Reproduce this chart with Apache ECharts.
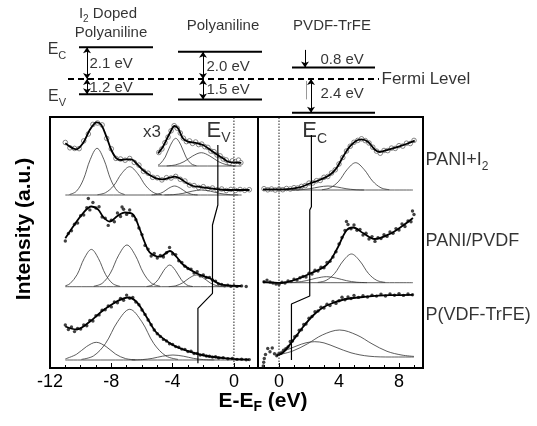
<!DOCTYPE html>
<html>
<head>
<meta charset="utf-8">
<script src="https://cdn.jsdelivr.net/npm/echarts@6/dist/echarts.min.js"></script>
<style>
  html, body { margin: 0; padding: 0; background: #fff; }
  #chart { width: 537px; height: 426px; }
</style>
</head>
<body>
<div id="chart"></div>
<script>
// ---------- band diagram (energies in eV, relative to the Fermi level) ----------
const condLevels = [2.24, 1.93, 0.81];
const valLevels = [-1.09, -1.45, -2.40];
const gapText = [['2.1 eV', '1.2 eV'], ['2.0 eV', '1.5 eV'], ['0.8 eV', '2.4 eV']];

// ---------- spectra: [E - EF (eV), intensity (a.u., offset per trace)] ----------
// left panel, occupied states
const iodVFit = [[-11.0,224.7],[-10.28,218.7],[-9.85,224.7],[-9.41,238],[-9.09,244.7],[-8.94,245.7],[-8.65,243],[-8.32,231.3],[-8.0,218],[-7.67,209.7],[-7.35,208],[-7.02,208.7],[-6.69,208.7],[-6.37,204.7],[-5.94,198],[-5.5,193],[-5.06,189.7],[-4.63,188.7],[-4.19,190.3],[-3.87,191.3],[-3.54,189.7],[-3.11,185.3],[-2.67,182],[-2.02,180.7],[-1.37,179.3],[-0.5,178],[0.37,178],[1.02,178]];
const iodVData = [[-11.0,225.5],[-10.7,220.2],[-10.4,219.6],[-10.1,219.4],[-9.8,227.1],[-9.5,234.0],[-9.2,243.6],[-8.9,245.0],[-8.6,243.1],[-8.3,229.6],[-8.0,219.2],[-7.7,209.6],[-7.4,209.0],[-7.1,207.8],[-6.8,209.5],[-6.5,205.6],[-6.2,202.9],[-5.9,196.7],[-5.6,194.8],[-5.3,190.7],[-5.0,190.2],[-4.7,188.1],[-4.4,190.3],[-4.1,190.0],[-3.8,191.6],[-3.5,188.7],[-3.2,187.0],[-2.9,182.9],[-2.6,182.4],[-2.3,180.5],[-2.0,181.3],[-1.7,179.4],[-1.4,180.0],[-1.1,178.2],[-0.8,179.0],[-0.5,177.5],[-0.2,178.6],[0.1,177.6],[0.4,178.5],[0.7,177.7],[1.0,178.3]];
const iodVBase = [[-11.0,173],[0.5,173]];
const iodVPeaks = [
  [[-10.73,173.5],[-10.28,176.7],[-9.83,188.2],[-9.38,208.3],[-8.93,219.7],[-8.48,208.3],[-8.03,188.2],[-7.58,176.7],[-7.13,173.5]],
  [[-8.9,173.3],[-8.38,175.3],[-7.85,182.2],[-7.33,194.4],[-6.8,201.3],[-6.28,194.4],[-5.75,182.2],[-5.23,175.3],[-4.7,173.3]],
  [[-5.37,173.1],[-5.0,173.7],[-4.62,175.9],[-4.25,179.8],[-3.87,182],[-3.5,179.8],[-3.12,175.9],[-2.75,173.7],[-2.37,173.1]],
  [[-4.53,173.1],[-3.93,173.4],[-3.33,174.6],[-2.73,176.8],[-2.13,178],[-1.53,176.8],[-0.93,174.6],[-0.33,173.4],[0.27,173.1]]
];
// x3 inset
const insetFit = [[-4.95,214.7],[-4.63,221.3],[-4.19,234.7],[-3.87,242],[-3.65,239.7],[-3.33,229.7],[-3.0,226.3],[-2.56,225.3],[-2.02,223],[-1.37,216.3],[-0.72,209.7],[-0.28,205.8],[0.16,205.5],[0.48,205.2]];
const insetData = [[-4.9,215.5],[-4.7,219.0],[-4.5,225.3],[-4.3,230.9],[-4.1,237.2],[-3.9,242.3],[-3.7,239.8],[-3.5,235.0],[-3.3,229.8],[-3.1,226.4],[-2.9,227.1],[-2.7,224.6],[-2.5,226.0],[-2.3,223.4],[-2.1,223.9],[-1.9,221.3],[-1.7,220.6],[-1.5,216.9],[-1.3,216.3],[-1.1,213.0],[-0.9,212.1],[-0.7,209.0],[-0.5,208.0],[-0.3,205.0],[-0.1,207.2],[0.1,206.4],[0.3,207.9],[0.45,205.3]];
const insetBase = [[-4.95,202],[0.48,202]];
const insetPeaks = [
  [[-4.95,203.0],[-4.81,204.2],[-4.48,211],[-4.14,222.9],[-3.8,229.7],[-3.46,222.9],[-3.13,211],[-2.79,204.2],[-2.45,202.3]],
  [[-4.38,202.1],[-3.82,203.1],[-3.26,206.3],[-2.69,212],[-2.13,215.3],[-1.57,212],[-1.0,206.3],[-0.44,203.1],[0.12,202.1]]
];
const blendVFit = [[-11.0,129.7],[-10.5,141.3],[-9.85,154.7],[-9.3,161.5],[-8.87,158.7],[-8.5,150.5],[-8.11,146.5],[-7.6,152],[-7.13,155.5],[-6.59,153.7],[-6.15,139],[-5.83,126],[-5.5,115.7],[-4.83,111.3],[-4.18,117],[-3.76,111.3],[-3.33,103.5],[-2.45,94.7],[-1.59,89.7],[-0.93,84],[-0.3,82.3],[0.48,82]];
const blendVData = [[-11.0,127.0],[-10.8,134.5],[-10.6,137.2],[-10.4,143.8],[-10.2,145.0],[-10.0,152.3],[-9.8,153.0],[-9.6,160.4],[-9.5,169.5],[-9.4,158.1],[-9.2,165.5],[-9.0,160.0],[-8.8,161.2],[-8.6,151.0],[-8.4,149.8],[-8.2,142.6],[-8.0,147.9],[-7.8,146.3],[-7.6,155.0],[-7.4,151.5],[-7.3,161.0],[-7.2,158.7],[-7.0,153.6],[-6.8,158.0],[-6.6,152.2],[-6.4,148.3],[-6.2,140.0],[-6.0,133.4],[-5.8,122.6],[-5.6,118.9],[-5.4,112.0],[-5.2,114.5],[-5.0,110.0],[-4.8,112.6],[-4.6,111.0],[-4.4,115.3],[-4.2,120.5],[-4.0,114.0],[-3.8,113.4],[-3.6,107.2],[-3.4,105.6],[-3.2,101.8],[-3.0,99.5],[-2.8,98.9],[-2.6,95.0],[-2.4,96.2],[-2.2,92.1],[-2.0,93.0],[-1.8,90.5],[-1.6,90.6],[-1.4,88.0],[-1.2,86.9],[-1.0,84.0],[-0.8,83.5],[-0.6,82.2],[-0.4,82.9],[-0.2,81.8],[0.0,82.4],[0.2,81.6],[0.5,82.1],[0.8,81.5]];
const blendVBase = [[-11.0,81.3],[0.5,81.3]];
const blendVPeaks = [
  [[-11.0,82.2],[-10.7,84.3],[-10.23,93.4],[-9.77,109.5],[-9.3,118.6],[-8.84,109.5],[-8.37,93.4],[-7.9,84.3],[-7.44,81.7]],
  [[-9.14,81.8],[-8.6,84.6],[-8.06,94.9],[-7.52,112.8],[-6.98,123],[-6.44,112.8],[-5.9,94.9],[-5.36,84.6],[-4.82,81.8]],
  [[-5.69,81.5],[-5.32,83],[-4.94,88.4],[-4.57,97.7],[-4.19,103],[-3.82,97.7],[-3.44,88.4],[-3.07,83],[-2.69,81.5]],
  [[-4.25,81.4],[-3.8,82.2],[-3.35,85.1],[-2.9,90.1],[-2.45,93],[-2.0,90.1],[-1.55,85.1],[-1.1,82.2],[-0.65,81.4]]
];
const pvdfVFit = [[-11.0,41.5],[-10.28,38.5],[-9.41,46.3],[-8.55,57.5],[-7.67,66.3],[-6.91,70.5],[-6.37,66.3],[-5.71,51.3],[-5.06,35.5],[-3.98,23],[-2.89,16.3],[-1.8,12],[-0.5,9.7],[0.98,8.3]];
const pvdfVData = [[-11.0,43.0],[-10.8,38.5],[-10.6,41.0],[-10.4,36.4],[-10.2,39.5],[-10.0,39.0],[-9.8,43.1],[-9.6,42.2],[-9.4,47.5],[-9.2,47.0],[-9.0,52.3],[-8.8,53.1],[-8.6,57.8],[-8.4,58.2],[-8.2,62.0],[-8.0,61.1],[-7.8,66.0],[-7.6,65.3],[-7.4,69.6],[-7.2,67.8],[-7.0,72.9],[-6.8,69.8],[-6.6,70.5],[-6.4,66.0],[-6.2,63.2],[-6.0,58.0],[-5.8,53.6],[-5.6,48.0],[-5.4,43.3],[-5.2,38.0],[-5.0,34.2],[-4.8,31.5],[-4.6,28.6],[-4.4,27.0],[-4.2,24.3],[-4.0,23.5],[-3.8,21.4],[-3.6,20.8],[-3.4,18.9],[-3.2,18.6],[-3.0,16.4],[-2.8,16.8],[-2.6,14.5],[-2.4,14.6],[-2.2,12.9],[-2.0,13.2],[-1.8,12.0],[-1.6,11.8],[-1.4,10.9],[-1.2,11.2],[-1.0,10.0],[-0.7,10.3],[-0.4,9.2],[-0.1,9.6],[0.2,8.6],[0.5,8.8],[0.8,8.2],[1.0,8.4]];
const pvdfVBase = [[-11.0,8],[1.0,8]];
const pvdfVPeaks = [
  [[-9.95,8.6],[-9.16,12.1],[-8.38,24.5],[-7.59,46.3],[-6.8,58.7],[-6.01,46.3],[-5.23,24.5],[-4.44,12.1],[-3.65,8.6]],
  [[-11.0,9.1],[-10.26,13.8],[-9.62,21.4],[-8.98,25.7],[-8.34,21.4],[-7.71,13.8],[-7.07,9.4],[-6.43,8.2]],
  [[-6.68,8.1],[-5.98,8.4],[-5.33,9.6],[-4.66,11.8],[-3.98,13],[-3.3,11.8],[-2.63,9.6],[-1.98,8.4],[-1.28,8.1]]
];
// right panel, unoccupied states
const iodCFit = [[-1.07,178.7],[0.27,178.7],[1.38,180.7],[2.05,184.5],[2.71,188],[3.38,193],[3.83,199.7],[4.27,211.3],[4.71,221.3],[5.16,227.3],[5.49,228.7],[5.93,226.3],[6.38,218.5],[6.71,216],[7.16,217.8],[7.83,220.7],[8.49,224],[9.05,227.3]];
const iodCData = [[-1.0,179.3],[-0.75,178.2],[-0.5,179.0],[-0.25,178.0],[0.0,178.9],[0.25,178.3],[0.5,179.5],[0.75,179.0],[1.0,180.3],[1.25,180.0],[1.5,181.6],[1.75,182.4],[2.0,184.9],[2.25,185.0],[2.5,187.3],[2.75,187.6],[3.0,190.7],[3.25,191.5],[3.5,195.0],[3.75,198.2],[4.0,204.0],[4.25,210.5],[4.5,217.0],[4.75,221.8],[5.0,225.7],[5.25,227.6],[5.5,229.2],[5.75,227.4],[6.0,225.0],[6.25,220.8],[6.5,216.9],[6.75,214.8],[7.0,217.5],[7.25,217.4],[7.5,219.9],[7.75,219.6],[8.0,222.3],[8.25,221.9],[8.5,224.8],[8.75,224.5],[9.0,227.6]];
const iodCBase = [[-1.07,178],[8.93,178]];
const iodCPeaks = [
  [[2.86,178.3],[3.42,180.2],[3.99,186.9],[4.55,198.6],[5.11,205.3],[5.67,198.6],[6.24,186.9],[6.8,180.2],[7.36,178.3]],
  [[0.87,178],[1.47,178.3],[2.07,179.3],[2.67,181],[3.27,182],[3.87,181],[4.47,179.3],[5.07,178.3],[5.67,178]]
];
const blendCFit = [[-1.07,86],[-0.5,85.5],[0.05,85],[0.93,87.5],[2.05,94.2],[3.16,103],[3.83,118],[4.49,137.5],[4.93,140.5],[5.6,135],[6.38,129],[7.38,134],[8.27,142.5],[8.93,150]];
const blendCData = [[-1.0,86.2],[-0.8,87.9],[-0.6,86.0],[-0.4,84.9],[-0.2,84.0],[0.0,83.6],[0.2,85.8],[0.4,85.0],[0.6,87.1],[0.8,86.4],[1.0,88.9],[1.2,88.0],[1.4,90.3],[1.6,91.5],[1.8,91.0],[2.0,94.8],[2.2,93.9],[2.4,97.8],[2.6,96.9],[2.8,100.8],[3.0,100.2],[3.2,105.5],[3.4,106.8],[3.6,111.0],[3.8,116.3],[4.0,124.0],[4.2,130.5],[4.4,137.6],[4.5,146.5],[4.6,143.5],[4.8,139.2],[5.0,143.0],[5.2,137.8],[5.4,138.5],[5.6,132.9],[5.8,134.8],[6.0,129.0],[6.2,131.4],[6.4,126.6],[6.6,130.2],[6.8,129.5],[7.0,133.2],[7.2,131.6],[7.4,136.0],[7.6,134.8],[7.8,139.4],[8.0,137.9],[8.2,144.1],[8.4,141.5],[8.6,147.0],[8.8,146.3],[8.9,157.0],[9.0,153.5]];
const blendCBase = [[-1.07,85.3],[8.93,85.3]];
const blendCPeaks = [
  [[2.58,85.6],[3.14,87.6],[3.71,94.6],[4.27,107],[4.83,114],[5.39,107],[5.96,94.6],[6.52,87.6],[7.08,85.6]],
  [[0.46,85.4],[1.16,85.8],[1.81,87.3],[2.48,89.8],[3.16,91.3],[3.84,89.8],[4.51,87.3],[5.16,85.8],[5.86,85.4]]
];
const pvdfCFit = [[-0.17,12.5],[0.27,15.5],[0.93,27.5],[1.6,41],[2.27,52.5],[2.93,60.5],[3.6,65],[4.49,69],[5.83,71.3],[7.38,72.8],[8.93,73.2]];
const pvdfCData = [[-1.05,2.0],[-1.02,5.8],[-0.98,9.5],[-0.9,13.5],[-0.75,19.5],[-0.6,16.2],[-0.45,20.0],[-0.3,14.3],[-0.15,12.2],[0.0,13.9],[0.15,15.0],[0.3,17.8],[0.45,19.2],[0.6,21.0],[0.75,26.5],[0.9,27.0],[1.05,31.2],[1.2,32.5],[1.35,37.8],[1.5,38.2],[1.65,43.5],[1.8,44.0],[2.0,49.8],[2.2,51.5],[2.4,56.2],[2.6,57.0],[2.8,60.8],[3.0,59.9],[3.2,63.8],[3.4,62.4],[3.6,66.5],[3.8,64.6],[4.0,67.3],[4.2,70.8],[4.4,68.2],[4.6,71.0],[4.8,69.5],[5.0,72.6],[5.3,70.6],[5.6,72.2],[5.9,71.0],[6.2,72.8],[6.5,71.9],[6.8,73.9],[7.1,72.0],[7.4,74.1],[7.7,72.8],[8.0,74.4],[8.3,72.6],[8.6,74.0],[8.9,73.2]];
const pvdfCPeaks = [
  [[-0.17,12.8],[0.9,16.9],[1.9,24.2],[2.9,33.1],[4.04,38],[5.2,32.9],[6.2,24.2],[7.2,16.7],[8.2,12.9],[9.0,11.6]],
  [[-0.17,14.6],[0.5,18],[1.2,22.2],[1.8,25.2],[2.38,26.3],[3.0,25.1],[3.8,20.7],[4.8,15.2],[6.0,11.8],[7.5,11],[9.0,11]]
];
// band edge markers drawn across the three traces
const evPath = [[-1.05,223],[-1.05,163],[-1.4,143],[-1.4,74.7],[-2.35,59.7],[-2.35,4.7]];
const ecPath = [[2.16,233],[2.16,161.3],[2.05,158],[2.05,72],[0.83,64],[0.83,8]];
const sampleNames = ['PANI+I2', 'PANI/PVDF', 'P(VDF-TrFE)'];
const sampleLevels = [208, 127, 52.5];
const leftTicks = [-12, -8, -4, 0];
const leftMinor = [-11, -10, -9, -7, -6, -5, -3, -2, -1, 1];
const rightTicks = [0, 4, 8];
const rightMinor = [-1, 1, 2, 3, 5, 6, 7, 9];

// ---------- layout ----------
const FONT = '"Liberation Sans", Arial, sans-serif';
const columnSpan = [[79, 153], [178, 262], [292, 375]];
const fermiSpan = [68, 379];
const arrowX = [87, 203, 311];
const DIAG = [0, 0], LEFT = [1, 1], RIGHT = [3, 2];

const chart = echarts.init(document.getElementById('chart'));

function curve(data, ax, width, color) {
  return { type: 'line', xAxisIndex: ax[0], yAxisIndex: ax[1], data, smooth: 0.35, symbol: 'none',
    lineStyle: { color: color || '#000', width: width }, silent: true, z: 3 };
}
function poly(data, ax, width) {
  return { type: 'line', xAxisIndex: ax[0], yAxisIndex: ax[1], data, symbol: 'none',
    lineStyle: { color: '#000', width: width }, silent: true, z: 4 };
}
function dots(data, ax, hollow) {
  return { type: 'scatter', xAxisIndex: ax[0], yAxisIndex: ax[1], data, symbol: 'circle',
    symbolSize: hollow ? 4.6 : 3.4, silent: true, z: 2,
    itemStyle: hollow ? { color: '#fff', borderColor: '#666', borderWidth: 1 } : { color: '#111' } };
}
function texts(ax, items) {
  return { type: 'scatter', xAxisIndex: ax[0], yAxisIndex: ax[1], symbolSize: 1, silent: true, z: 10,
    itemStyle: { color: 'rgba(0,0,0,0)' },
    data: items.map(it => ({ value: it.at, label: Object.assign({ show: true, position: it.pos || 'inside',
      distance: it.dist || 0, color: '#000', fontFamily: FONT, fontSize: it.size || 15,
      formatter: it.text, rich: it.rich }, it.extra || {}) })) };
}
const subRich = (big, small, pad) => ({ m: { fontSize: big, fontFamily: FONT, color: '#000' },
  s: { fontSize: small, fontFamily: FONT, color: '#000', padding: [pad, 0, 0, 0] } });

const series = [];

// band diagram
condLevels.forEach((c, i) => series.push(poly([[columnSpan[i][0], c], [columnSpan[i][1], c]], DIAG, 2)));
valLevels.forEach((v, i) => series.push(poly([[columnSpan[i][0], v], [columnSpan[i][1], v]], DIAG, 2)));
const arrows = [];
for (let i = 0; i < 2; i++) {
  arrows.push([{ coord: [arrowX[i], condLevels[i]], symbol: 'arrow' }, { coord: [arrowX[i], 0], symbol: 'arrow' }]);
  arrows.push([{ coord: [arrowX[i], 0], symbol: 'arrow' }, { coord: [arrowX[i], valLevels[i]], symbol: 'arrow' }]);
}
arrows.push([{ coord: [arrowX[2] - 6, condLevels[2] + 1.25], symbol: 'none' }, { coord: [arrowX[2] - 6, condLevels[2]], symbol: 'arrow' }]);
arrows.push([{ coord: [arrowX[2], 0], symbol: 'arrow' }, { coord: [arrowX[2], valLevels[2]], symbol: 'arrow' }]);
arrows.push([{ coord: [arrowX[2] - 5, -0.15], symbol: 'none', lineStyle: { color: '#999' } }, { coord: [arrowX[2] - 5, -1.45], symbol: 'none' }]);
series.push({ type: 'line', xAxisIndex: 0, yAxisIndex: 0, data: [[fermiSpan[0], 0], [fermiSpan[1], 0]], symbol: 'none',
  lineStyle: { color: '#000', width: 2, type: [6, 4] }, silent: true, z: 4,
  markLine: { silent: true, animation: false, symbolSize: 6, label: { show: false },
    lineStyle: { color: '#000', width: 1, type: 'solid' }, emphasis: { disabled: true }, data: arrows } });
series.push(texts(DIAG, [
  { at: [108, 4.6], text: '{m|I}{s|2}{m| Doped}', rich: subRich(15, 10, 10) },
  { at: [111, 3.28], text: 'Polyaniline' },
  { at: [223, 3.75], text: 'Polyaniline' },
  { at: [332, 3.75], text: 'PVDF-TrFE' },
  { at: [57, 2.05], text: '{m|E}{s|C}', rich: subRich(16, 11, 12) },
  { at: [57, -1.26], text: '{m|E}{s|V}', rich: subRich(16, 11, 12) },
  { at: [arrowX[0] + 2, 1.1], text: gapText[0][0], pos: 'right' },
  { at: [arrowX[0] + 2, -0.6], text: gapText[0][1], pos: 'right' },
  { at: [arrowX[1] + 3, 0.87], text: gapText[1][0], pos: 'right' },
  { at: [arrowX[1] + 3, -0.74], text: gapText[1][1], pos: 'right' },
  { at: [arrowX[2] + 9, 1.34], text: gapText[2][0], pos: 'right' },
  { at: [arrowX[2] + 9, -1.07], text: gapText[2][1], pos: 'right' },
  { at: [fermiSpan[1] + 2, -0.03], text: 'Fermi Level', pos: 'right', size: 17 }
]));

// left panel
[iodVBase, insetBase, blendVBase, pvdfVBase].forEach(b => series.push(curve(b, LEFT, 0.8, '#333')));
[...iodVPeaks, ...insetPeaks, ...blendVPeaks, ...pvdfVPeaks].forEach(p => series.push(curve(p, LEFT, 0.8, '#333')));
series.push(dots(iodVData, LEFT, true), dots(insetData, LEFT, true), dots(blendVData, LEFT, false), dots(pvdfVData, LEFT, false));
[iodVFit, insetFit, blendVFit, pvdfVFit].forEach(f => series.push(curve(f, LEFT, 1.8)));
series.push(poly(evPath, LEFT, 1.2));
series.push({ type: 'line', xAxisIndex: 1, yAxisIndex: 1, data: [[0, 0], [0, 251]], symbol: 'none', silent: true,
  lineStyle: { color: '#222', width: 1, type: [1.5, 1.5] } });
series.push(texts(LEFT, [
  { at: [-5.34, 235.5], text: 'x3', size: 17 },
  { at: [-1.0, 237.5], text: '{m|E}{s|V}', rich: subRich(22, 14, 16) }
]));

// right panel
[iodCBase, blendCBase].forEach(b => series.push(curve(b, RIGHT, 0.8, '#333')));
[...iodCPeaks, ...blendCPeaks, ...pvdfCPeaks].forEach(p => series.push(curve(p, RIGHT, 0.8, '#333')));
series.push(dots(iodCData, RIGHT, true), dots(blendCData, RIGHT, false), dots(pvdfCData, RIGHT, false));
[iodCFit, blendCFit, pvdfCFit].forEach(f => series.push(curve(f, RIGHT, 1.8)));
series.push(poly(ecPath, RIGHT, 1.2));
series.push({ type: 'line', xAxisIndex: 3, yAxisIndex: 2, data: [[0, 0], [0, 251]], symbol: 'none', silent: true,
  lineStyle: { color: '#222', width: 1, type: [1.5, 1.5] } });
series.push(texts(RIGHT, [
  { at: [2.38, 237], text: '{m|E}{s|C}', rich: subRich(22, 14, 16) },
  { at: [9.6, sampleLevels[0]], text: '{m|PANI+I}{s|2}', rich: subRich(18, 12, 14), pos: 'right', dist: 2 },
  { at: [9.6, sampleLevels[1]], text: sampleNames[1], pos: 'right', dist: 2, size: 18 },
  { at: [9.6, sampleLevels[2]], text: sampleNames[2], pos: 'right', dist: 2, size: 18 }
]));

function majorAxis(grid, min, max, ticks) {
  return { gridIndex: grid, type: 'value', min, max, position: 'bottom', offset: 0,
    axisLine: { show: false }, splitLine: { show: false },
    axisTick: { show: true, inside: true, length: 5, customValues: ticks, lineStyle: { color: '#000', width: 1 } },
    axisLabel: { show: true, customValues: ticks, fontSize: 18, color: '#000', fontFamily: FONT, margin: 5 } };
}
function minorAxis(grid, min, max, ticks) {
  return { gridIndex: grid, type: 'value', min, max, position: 'bottom', offset: 0,
    axisLine: { show: false }, splitLine: { show: false }, axisLabel: { show: false },
    axisTick: { show: true, inside: true, length: 3, customValues: ticks, lineStyle: { color: '#000', width: 1 } } };
}

chart.setOption({
  animation: false,
  backgroundColor: '#fff',
  textStyle: { fontFamily: FONT },
  grid: [
    { left: 0, top: 0, width: 537, height: 117, show: false },
    { left: 50, top: 117, width: 208, height: 251, show: true, borderColor: '#000', borderWidth: 2 },
    { left: 258, top: 117, width: 165, height: 251, show: true, borderColor: '#000', borderWidth: 2 }
  ],
  xAxis: [
    { gridIndex: 0, type: 'value', min: 0, max: 537, show: false },
    majorAxis(1, -12, 1.57, leftTicks),
    minorAxis(1, -12, 1.57, leftMinor),
    majorAxis(2, -1.4, 9.6, rightTicks),
    minorAxis(2, -1.4, 9.6, rightMinor)
  ],
  yAxis: [
    { gridIndex: 0, type: 'value', min: -2.7, max: 5.6, show: false },
    { gridIndex: 1, type: 'value', min: 0, max: 251, show: false },
    { gridIndex: 2, type: 'value', min: 0, max: 251, show: false }
  ],
  graphic: [
    { type: 'text', x: 24, y: 229, rotation: Math.PI / 2, silent: true,
      style: { text: 'Intensity (a.u.)', font: 'bold 21px ' + FONT, fill: '#000', align: 'center', verticalAlign: 'middle' } },
    { type: 'text', x: 263, y: 401, silent: true,
      style: { text: '{b|E-E}{s|F}{b| (eV)}', align: 'center', verticalAlign: 'middle', fill: '#000',
        rich: { b: { fontSize: 21, fontWeight: 'bold', fontFamily: FONT }, s: { fontSize: 14, fontWeight: 'bold', fontFamily: FONT, padding: [12, 0, 0, 0] } } } }
  ],
  series
});
</script>
</body>
</html>
